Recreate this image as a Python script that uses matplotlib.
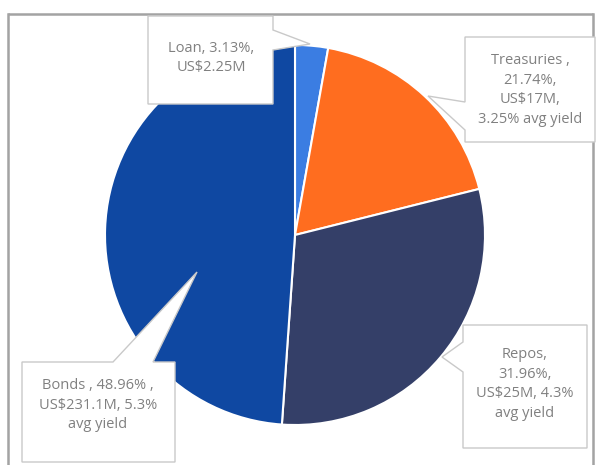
import matplotlib
matplotlib.use("Agg")
import matplotlib.pyplot as plt
from matplotlib.patches import Polygon

# datos (porciones, etiquetas tal como aparecen)
categorias = ["Loan", "Treasuries", "Repos", "Bonds"]
porciones = [2.8, 18.3, 30.0, 48.9]
etiquetas = [
    "Loan, 3.13%,\nUS$2.25M",
    "Treasuries ,\n21.74%,\nUS$17M,\n3.25% avg yield",
    "Repos,\n31.96%,\nUS$25M, 4.3%\navg yield",
    "Bonds , 48.96% ,\nUS$231.1M, 5.3%\navg yield",
]
colores = ["#3b7de2", "#ff6d1f", "#343f68", "#0f48a2"]

plt.rcParams["font.family"] = ["Open Sans", "DejaVu Sans"]

fig = plt.figure(figsize=(6, 4.65), dpi=100)
ax = fig.add_axes([0, 0, 1, 1])

ax.pie(porciones, colors=colores, startangle=-90, counterclock=True,
       center=(295, 235), radius=190,
       wedgeprops=dict(edgecolor="white", linewidth=1.5))

ax.set_xlim(0, 600)
ax.set_ylim(465, 0)
ax.set_aspect("equal")
ax.axis("off")

# marco gris
borde = "#a3a3a3"
ax.plot([8, 593], [14, 14], color=borde, lw=1.8, solid_capstyle="butt")
ax.plot([8, 8], [14, 465], color=borde, lw=1.8)
ax.plot([593, 593], [14, 465], color=borde, lw=1.8)

# cuadros de llamada: contorno (caja + punta) y centro del texto
llamadas = [
    ([(148, 16), (273, 16), (273, 30), (310, 44), (273, 50), (273, 104), (148, 104)], (211, 58)),
    ([(465, 37), (595, 37), (595, 142), (465, 142), (465, 130), (428, 96), (465, 102)], (530, 90)),
    ([(463, 325), (587, 325), (587, 448), (463, 448), (463, 372), (442, 357), (463, 342)], (525, 384)),
    ([(22, 362), (113, 362), (197, 272), (153, 362), (175, 362), (175, 462), (22, 462)], (98, 405)),
]

for (contorno, centro), texto in zip(llamadas, etiquetas):
    ax.add_patch(Polygon(contorno, closed=True, facecolor="white",
                         edgecolor="#c9c9c9", lw=1, zorder=5))
    ax.text(centro[0], centro[1], texto, ha="center", va="center",
            fontsize=10.5, color="#808080", linespacing=1.4, zorder=6)

fig.savefig("out.png", dpi=100)
